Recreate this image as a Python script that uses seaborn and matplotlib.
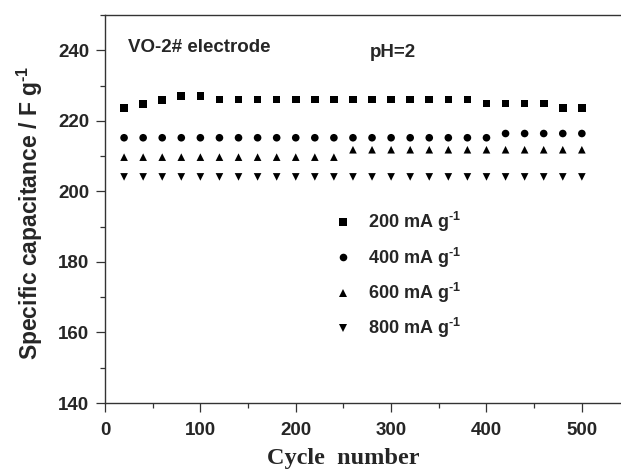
import seaborn as sns
import matplotlib.pyplot as plt
import pandas as pd
import numpy as np

# datos
cycles = [20, 40, 60, 80, 100, 120, 140, 160, 180, 200, 220, 240, 260,
          280, 300, 320, 340, 360, 380, 400, 420, 440, 460, 480, 500]

cap_200 = [223.6, 224.8, 225.9, 227.1, 227.1, 226.0, 226.0, 226.0, 226.0, 226.0,
           226.0, 226.0, 226.0, 226.0, 226.0, 226.0, 226.0, 226.0, 226.0, 224.9,
           224.9, 224.9, 224.9, 223.6, 223.6]
cap_400 = [215.2, 215.2, 215.2, 215.2, 215.2, 215.2, 215.2, 215.2, 215.2, 215.2,
           215.2, 215.2, 215.2, 215.2, 215.2, 215.2, 215.2, 215.2, 215.2, 215.2,
           216.4, 216.4, 216.4, 216.4, 216.4]
cap_600 = [209.7, 209.7, 209.7, 209.7, 209.7, 209.7, 209.7, 209.7, 209.7, 209.7,
           209.7, 209.7, 211.8, 211.8, 211.8, 211.8, 211.8, 211.8, 211.8, 211.8,
           211.8, 211.8, 211.8, 211.8, 211.8]
cap_800 = [204.1, 204.1, 204.1, 204.1, 204.1, 204.1, 204.1, 204.1, 204.1, 204.1,
           204.1, 204.1, 204.1, 204.1, 204.1, 204.1, 204.1, 204.1, 204.1, 204.1,
           204.1, 204.1, 204.1, 204.1, 204.1]

rate_labels = [r'200 mA g$^{\text{-}1}$', r'400 mA g$^{\text{-}1}$',
               r'600 mA g$^{\text{-}1}$', r'800 mA g$^{\text{-}1}$']
rate_markers = ['s', 'o', '^', 'v']

x_ticks = [0, 100, 200, 300, 400, 500]
y_ticks = [140, 160, 180, 200, 220, 240]

# tabla larga para seaborn
df = pd.concat([
    pd.DataFrame({'Cycle': cycles, 'Cap': vals, 'Rate': lab})
    for vals, lab in zip([cap_200, cap_400, cap_600, cap_800], rate_labels)
], ignore_index=True)

sns.set_style('ticks')
plt.rcParams['font.family'] = ['Liberation Sans', 'DejaVu Sans']
plt.rcParams['font.weight'] = 'bold'
plt.rcParams['mathtext.fontset'] = 'custom'
plt.rcParams['mathtext.rm'] = 'Liberation Sans:bold'
plt.rcParams['mathtext.it'] = 'Liberation Sans:bold'
plt.rcParams['mathtext.bf'] = 'Liberation Sans:bold'

fig = plt.figure(figsize=(6.21, 4.70), dpi=100)
ax = fig.add_axes([105/621, 1 - 403/470, 515/621, 388/470])

sns.scatterplot(data=df, x='Cycle', y='Cap', style='Rate',
                markers=dict(zip(rate_labels, rate_markers)),
                color='black', edgecolor='black', linewidth=0,
                s=30, ax=ax, legend=True)

ax.set_xlim(0, 540)
ax.set_ylim(140, 250)
ax.set_xticks(x_ticks)
ax.set_yticks(y_ticks)
ax.set_xticks([50, 150, 250, 350, 450], minor=True)
ax.set_yticks([150, 170, 190, 210, 230, 250], minor=True)
ax.tick_params(which='major', direction='out', length=6.5, width=0.9,
               labelsize=13.5, color='#333333')
ax.tick_params(axis='x', which='major', pad=7)
ax.tick_params(axis='y', which='major', pad=5)
ax.tick_params(which='minor', direction='out', length=3.5, width=0.9, color='#333333')
for lab in ax.get_xticklabels() + ax.get_yticklabels():
    lab.set_fontweight('bold')

for side in ['left', 'bottom', 'top']:
    ax.spines[side].set_linewidth(1.0)
    ax.spines[side].set_color('#333333')
ax.spines['right'].set_visible(False)

ax.set_ylabel(r'Specific capacitance / F g$^{\text{-}1}$', fontsize=16.5, fontweight='bold')
ax.yaxis.set_label_coords(-0.117, 0.49)
ax.set_xlabel('Cycle  number', fontsize=17.5, fontweight='bold',
              family='Liberation Serif')
ax.xaxis.set_label_coords(0.462, -0.115)

ax.text(24, 240.7, 'VO-2# electrode', fontsize=13.5, fontweight='bold', va='center', ha='left')
ax.text(302, 239.5, 'pH=2', fontsize=13.5, fontweight='bold', va='center', ha='center')

handles, labels = ax.get_legend_handles_labels()
ax.legend(handles, labels, loc='upper left', bbox_to_anchor=(0.446, 0.497),
          frameon=False, fontsize=13, handlelength=0.9, handletextpad=0.95,
          labelspacing=0.62, borderpad=0, borderaxespad=0)

plt.savefig('out.png', dpi=100)
plt.close()
